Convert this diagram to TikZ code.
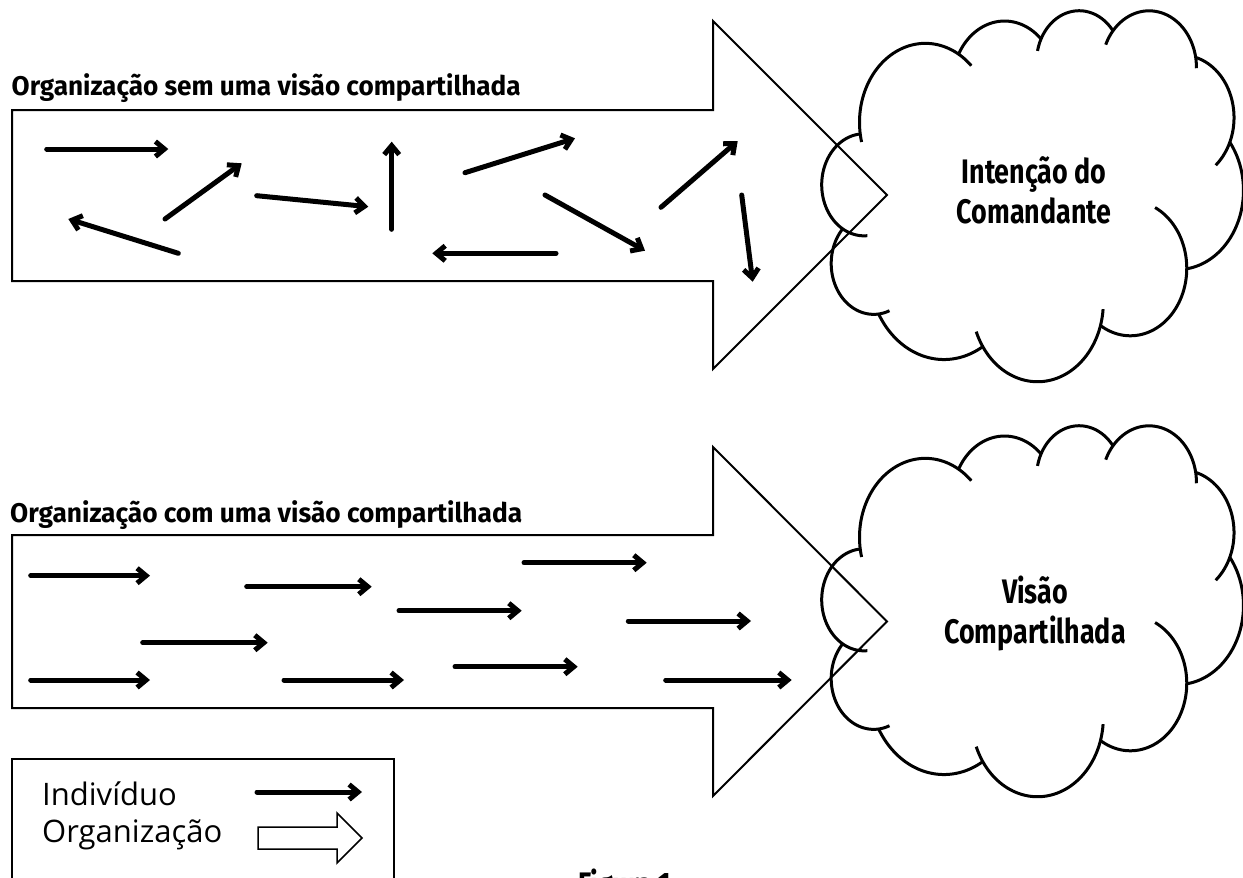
\documentclass[tikz,border=0pt]{standalone}
\usepackage{fontspec}
\usepackage{graphicx}
\setmainfont{Open Sans}
\newfontfamily\condbold{Fira Sans}[FakeStretch=0.79]
\usetikzlibrary{arrows.meta}

% one elliptical lobe of the cloud: centre x, centre y, x radius, y radius, from, to
\newcommand\cloudlobe[6]{%
  \draw[cloudline] plot[domain=#5:#6, samples=60, variable=\t] ({#1+#3*cos(\t)}, {#2+#4*sin(\t)});%
}
% heading set to a fixed width
\newcommand\headingtext[2]{\resizebox{#1}{\height}{#2}}

\tikzset{
  bigarrow/.style={draw=black, line width=2pt, line join=miter},
  indiv/.style={line width=5pt, line cap=round, -{Straight Barb[length=9pt,width=15pt]}},
  cloudline/.style={line width=3pt},
  titletext/.style={font=\condbold\bfseries\fontsize{27}{32}\selectfont, inner sep=0pt, anchor=base west},
  cloudtext/.style={font=\condbold\bfseries\fontsize{34}{40}\selectfont, align=center, inner sep=0pt, anchor=base},
  legtext/.style={font=\fontsize{31}{36}\selectfont, inner sep=0pt, anchor=base west},
  legbox/.style={draw=black, line width=2pt},
  % cloud outline: eleven overlapping elliptical lobes
  cloudpic/.pic={
    \begin{scope}[shift={(822.07pt,-9.5pt)}, x=0.975pt, y=-0.8585pt]
      \cloudlobe{43.067}{204.199}{43.45}{59.45}{85.55}{264.11}
      \cloudlobe{105.913}{131.312}{67.53}{91.90}{165.49}{314.26}
      \cloudlobe{187.144}{86.108}{53.33}{72.67}{-152.02}{-45.42}
      \cloudlobe{263.639}{60.882}{43.65}{59.45}{-167.73}{-37.30}
      \cloudlobe{335.389}{67.483}{48.57}{65.95}{-156.28}{0.82}
      \cloudlobe{369.181}{125.969}{53.33}{72.73}{-74.77}{49.63}
      \cloudlobe{364.445}{210.761}{67.75}{92.20}{-37.50}{81.86}
      \cloudlobe{316.190}{301.402}{57.85}{78.67}{-64.03}{121.98}
      \cloudlobe{220.928}{341.439}{67.52}{92.15}{4.74}{158.47}
      \cloudlobe{125.028}{302.295}{77.20}{105.43}{58.99}{150.20}
      \cloudlobe{52.957}{295.914}{43.60}{59.18}{68.23}{223.09}
    \end{scope}
  }
}

\begin{document}
\begin{tikzpicture}[x=1pt,y=-1pt]
  \useasboundingbox (0,0) rectangle (1243,878);
  \fill[white] (0,0) rectangle (1243,878);
  \clip (0,0) rectangle (1243,878);

  % upper organisation arrow
  \draw[bigarrow] (12,110) -- (713,110) -- (713,21) -- (887,195) -- (713,369) -- (713,281) -- (12,281) -- cycle;
  \node[titletext] (titleA) at (11.5,95) {\headingtext{509pt}{Organização sem uma visão compartilhada}};

  % individuals pulling in different directions
  \draw[indiv] (46.7,149) -- (168.3,149);
  \draw[indiv] (178.3,253.3) -- (68.3,219);
  \draw[indiv] (165,219) -- (241.7,163.3);
  \draw[indiv] (256.7,195.7) -- (368.3,206.7);
  \draw[indiv] (391.7,229.3) -- (391.7,141.7);
  \draw[indiv] (465,172.7) -- (575,138.3);
  \draw[indiv] (545,195) -- (645,250.7);
  \draw[indiv] (556,253.3) -- (432.3,253.3);
  \draw[indiv] (661,207.3) -- (737.7,141);
  \draw[indiv] (741.7,195) -- (752.7,281.7);

  \pic at (0,0) {cloudpic};
  \node[cloudtext] (intent) at (1034,223.3) {Intenção do\\Comandante};

  % lower organisation arrow
  \draw[bigarrow] (12,535) -- (713,535) -- (713,447) -- (887,621.5) -- (713,796) -- (713,708) -- (12,708) -- cycle;
  \node[titletext] (titleB) at (10,522) {\headingtext{512pt}{Organização com uma visão compartilhada}};

  % individuals aligned with the shared vision
  \draw[indiv] (30.7,575.7) -- (150,575.7);
  \draw[indiv] (246.7,586.7) -- (371.7,586.7);
  \draw[indiv] (399,610.7) -- (521.7,610.7);
  \draw[indiv] (142.7,642.7) -- (267.7,642.7);
  \draw[indiv] (30.7,680) -- (150,680);
  \draw[indiv] (284,680) -- (404,680);
  \draw[indiv] (524,562.7) -- (646.7,562.7);
  \draw[indiv] (628.3,621) -- (751,621);
  \draw[indiv] (455,666.7) -- (577.7,666.7);
  \draw[indiv] (665.7,680) -- (791.7,680);

  \pic at (0,415) {cloudpic};
  \node[cloudtext] (vision) at (1035,643.3) {Visão\\Compartilhada};

  % legend
  \draw[legbox] (12,759) rectangle (394,900);
  \node[legtext] (legInd) at (42,805) {Indivíduo};
  \node[legtext] (legOrg) at (42,842) {Organização};
  \draw[indiv] (257,792) -- (362,792);
  \draw[line width=1.5pt, line join=miter] (258,827) -- (337,827) -- (337,813) -- (362,838) -- (337,863) -- (337,849) -- (258,849) -- cycle;

  % caption
  \node[titletext, font=\condbold\bfseries\fontsize{34}{40}\selectfont] (caption) at (578,896) {Figura 1};
\end{tikzpicture}
\end{document}
